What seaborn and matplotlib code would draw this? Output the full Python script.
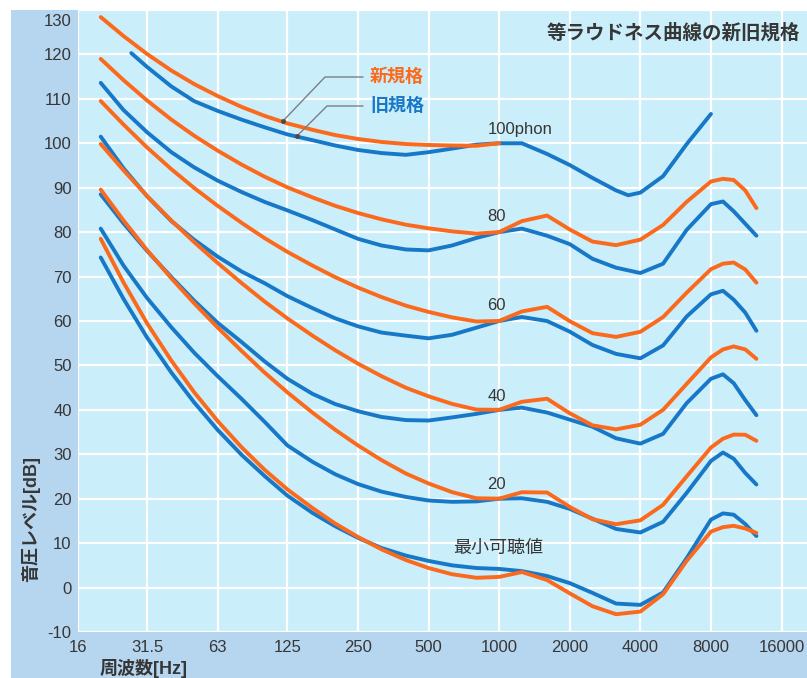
import matplotlib
matplotlib.use("Agg")
import matplotlib.pyplot as plt
from matplotlib.patches import Rectangle
from matplotlib.ticker import NullLocator
import pandas as pd
import seaborn as sns

# Frequencies [Hz]: 1/3-octave centres plus 9 kHz and 11.2 kHz near the peaks
FREQ = [20, 25, 31.5, 40, 50, 63, 80, 100, 125, 160, 200, 250, 315, 400, 500,
        630, 800, 1000, 1250, 1600, 2000, 2500, 3150, 4000, 5000, 6300, 8000,
        9000, 10000, 11200, 12500]

# New standard (ISO 226:2003) sound pressure levels [dB]
NEW_THR = [78.5, 68.7, 59.5, 51.1, 44.0, 37.5, 31.5, 26.5, 22.1, 17.9, 14.4, 11.4,
           8.6, 6.2, 4.4, 3.0, 2.2, 2.4, 3.5, 1.7, -1.3, -4.2, -6.0, -5.4, -1.5,
           6.0, 12.6, 13.6, 13.9, 13.3, 12.3]
NEW_20 = [89.58, 82.65, 75.98, 69.62, 64.02, 58.55, 53.19, 48.38, 43.94, 39.37,
          35.51, 31.99, 28.69, 25.67, 23.43, 21.48, 20.10, 20.01, 21.46, 21.40,
          18.15, 15.38, 14.26, 15.14, 18.63, 25.02, 31.52, 33.5, 34.43, 34.4, 33.04]
NEW_40 = [99.85, 93.94, 88.17, 82.63, 77.78, 73.08, 68.48, 64.37, 60.59, 56.70,
          53.41, 50.40, 47.58, 44.98, 43.05, 41.34, 40.06, 40.01, 41.82, 42.51,
          39.23, 36.51, 35.61, 36.65, 40.01, 45.83, 51.80, 53.6, 54.28, 53.6, 51.49]
NEW_60 = [109.51, 104.23, 99.08, 94.18, 89.96, 85.94, 82.05, 78.65, 75.56, 72.47,
          69.86, 67.53, 65.39, 63.45, 62.05, 60.81, 59.89, 60.01, 62.15, 63.19,
          59.96, 57.26, 56.42, 57.57, 60.89, 66.36, 71.66, 72.9, 73.16, 71.6, 68.63]
NEW_80 = [118.99, 114.23, 109.65, 105.34, 101.72, 98.36, 95.17, 92.48, 90.09, 87.82,
          85.92, 84.31, 82.89, 81.68, 80.86, 80.17, 79.67, 80.01, 82.48, 83.74,
          80.59, 77.88, 77.07, 78.31, 81.62, 86.81, 91.41, 92.0, 91.74, 89.4, 85.41]
NEW_100_FREQ = [20, 25, 31.5, 40, 50, 63, 80, 100, 125, 160, 200, 250, 315, 400,
                500, 630, 800, 1000]
NEW_100 = [128.41, 124.15, 120.11, 116.38, 113.35, 110.65, 108.16, 106.17, 104.48,
           103.03, 101.85, 100.97, 100.30, 99.83, 99.62, 99.50, 99.44, 100.01]

# Old standard (ISO 226:1987) sound pressure levels [dB]
OLD_THR = [74.3, 65.0, 56.3, 48.4, 41.7, 35.5, 29.8, 25.1, 20.7, 16.8, 13.8, 11.2,
           8.9, 7.2, 6.0, 5.0, 4.4, 4.2, 3.7, 2.6, 1.0, -1.2, -3.6, -3.9, -1.1,
           6.6, 15.3, 16.7, 16.4, 14.3, 11.6]
OLD_20 = [80.8, 72.5, 65.2, 58.6, 52.9, 47.6, 42.4, 37.3, 32.0, 28.3, 25.5, 23.3,
          21.6, 20.4, 19.6, 19.3, 19.4, 20.0, 20.1, 19.3, 17.7, 15.5, 13.2, 12.4,
          14.8, 21.3, 28.5, 30.4, 29.0, 25.8, 23.2]
OLD_40 = [88.5, 82.0, 75.8, 69.9, 64.6, 59.6, 55.2, 50.9, 47.0, 43.6, 41.3, 39.7,
          38.4, 37.7, 37.6, 38.3, 39.1, 40.0, 40.5, 39.4, 37.8, 36.2, 33.6, 32.4,
          34.6, 41.5, 47.0, 48.0, 46.0, 42.2, 38.8]
OLD_60 = [101.5, 94.4, 88.1, 82.5, 78.3, 74.5, 71.1, 68.5, 65.6, 62.9, 60.6, 58.8,
          57.4, 56.7, 56.1, 56.9, 58.5, 60.0, 60.9, 60.0, 57.6, 54.6, 52.6, 51.6,
          54.5, 61.0, 66.0, 66.8, 64.8, 61.9, 57.8]
OLD_80 = [113.6, 107.5, 102.5, 98.0, 94.6, 91.6, 89.0, 86.8, 84.9, 82.7, 80.6, 78.5,
          77.0, 76.1, 75.9, 77.0, 78.7, 80.0, 80.8, 79.2, 77.3, 74.0, 72.0, 70.8,
          72.9, 80.5, 86.3, 86.9, 84.7, 81.9, 79.2]
OLD_100_FREQ = [27, 31.5, 40, 50, 63, 80, 100, 125, 160, 200, 250, 315, 400, 500,
                630, 800, 1000, 1250, 1600, 2000, 2500, 3150, 3550, 4000, 5000,
                6300, 8000]
OLD_100 = [120.3, 117.2, 112.8, 109.5, 107.3, 105.3, 103.6, 102.0, 100.7, 99.5, 98.5,
           97.8, 97.4, 98.0, 98.8, 99.7, 100.0, 100.0, 97.6, 95.1, 92.2, 89.4, 88.3,
           88.9, 92.6, 99.8, 106.6]

XTICKS = [16, 31.5, 63, 125, 250, 500, 1000, 2000, 4000, 8000, 16000]
XTICK_LABELS = ["16", "31.5", "63", "125", "250", "500", "1000", "2000", "4000",
                "8000", "16000"]
YTICKS = list(range(-10, 131, 10))

CURVE_LABELS = ["100phon", "80", "60", "40", "20"]
CURVE_LABEL_Y = [103.2, 83.5, 63.4, 43.1, 23.3]
THRESHOLD_LABEL = "最小可聴値"

TITLE = "等ラウドネス曲線の新旧規格"
NEW_NAME = "新規格"
OLD_NAME = "旧規格"

ORANGE = "#fb6a1c"
BLUE = "#1878c8"
PANEL = "#b6d5ef"
PLOT_BG = "#caeefa"
TEXT = "#363636"

sns.set_style("white")
plt.rcParams["font.family"] = ["Liberation Sans", "Noto Sans CJK JP", "DejaVu Sans"]

W, H = 807, 678
fig = plt.figure(figsize=(W / 100, H / 100), dpi=100, facecolor="white")
fig.patches.append(Rectangle((11 / W, 0), 1 - 11 / W, (H - 10) / H,
                             transform=fig.transFigure, facecolor=PANEL,
                             edgecolor="none", zorder=-10))
ax = fig.add_axes([78 / W, 46 / H, 729 / W, 622 / H])
ax.set_zorder(1)
ax.set_facecolor(PLOT_BG)

old_curves = [(FREQ, OLD_THR), (FREQ, OLD_20), (FREQ, OLD_40), (FREQ, OLD_60),
              (FREQ, OLD_80), (OLD_100_FREQ, OLD_100)]
new_curves = [(FREQ, NEW_THR), (FREQ, NEW_20), (FREQ, NEW_40), (FREQ, NEW_60),
              (FREQ, NEW_80), (NEW_100_FREQ, NEW_100)]

for curves, color in ((old_curves, BLUE), (new_curves, ORANGE)):
    for f, lv in curves:
        df = pd.DataFrame({"freq": f, "level": lv})
        sns.lineplot(data=df, x="freq", y="level", ax=ax, color=color,
                     linewidth=2.8, estimator=None, sort=False,
                     solid_capstyle="round", solid_joinstyle="round")

ax.set_xscale("log")
ax.set_xlim(16, 20540)
ax.set_ylim(-10, 130)
ax.set_xticks(XTICKS)
ax.set_xticklabels(XTICK_LABELS)
ax.xaxis.set_minor_locator(NullLocator())
ax.set_yticks(YTICKS)
ax.set_yticklabels([str(v) if v != 130 else "" for v in YTICKS])
ax.grid(True, color="white", linewidth=1.6)
ax.set_axisbelow(True)
for s in ax.spines.values():
    s.set_visible(False)
ax.tick_params(axis="both", length=0, labelsize=12, colors=TEXT)
ax.tick_params(axis="y", pad=4.5)
ax.tick_params(axis="x", pad=6)
# top label sits just inside the panel
ax.annotate("130", xy=(0, 130), xycoords=("axes fraction", "data"),
            xytext=(-4.5, -8), textcoords="offset points", ha="right",
            va="center", fontsize=12, color=TEXT, annotation_clip=False)

ax.set_ylabel("音圧レベル[dB]", fontsize=13, fontweight="bold", color=TEXT,
              ha="center", va="center")
ax.yaxis.set_label_coords((31 - 78) / 729, (632 - 519) / 622)
ax.set_xlabel("周波数[Hz]", fontsize=13, fontweight="bold", color=TEXT,
              ha="left", va="center")
ax.xaxis.set_label_coords((100 - 78) / 729, (632 - 668) / 622)

ax.text((800 - 78) / 729, (632 - 33) / 622, TITLE, transform=ax.transAxes,
        ha="right", va="center", fontsize=14, fontweight="bold", color=TEXT)


def fx(px):
    return (px - 78) / 729


def fy(py):
    return (632 - py) / 622


# legend with leader lines
ax.text(fx(370), fy(77), NEW_NAME, transform=ax.transAxes, ha="left",
        va="center", fontsize=13, fontweight="bold", color=ORANGE)
ax.text(fx(370), fy(106), OLD_NAME, transform=ax.transAxes, ha="left",
        va="center", fontsize=13, fontweight="bold", color=BLUE)
for pts in ([(363, 77), (325, 77), (283, 121)], [(363, 106), (327, 106), (297, 136)]):
    ax.plot([fx(p[0]) for p in pts], [fy(p[1]) for p in pts],
            transform=ax.transAxes, color="#7a7f86", linewidth=1.0, zorder=5)
    ax.plot([fx(pts[-1][0])], [fy(pts[-1][1])], marker="o", markersize=2.5,
            color="#4a4a4a", transform=ax.transAxes, zorder=6)

for lab, yv in zip(CURVE_LABELS, CURVE_LABEL_Y):
    ax.text(890, yv, lab, ha="left", va="center", fontsize=12, color=TEXT)
ax.text(990, 8.7, THRESHOLD_LABEL, ha="center", va="center", fontsize=13,
        color=TEXT)

fig.savefig("out.png", dpi=100, facecolor=fig.get_facecolor())
